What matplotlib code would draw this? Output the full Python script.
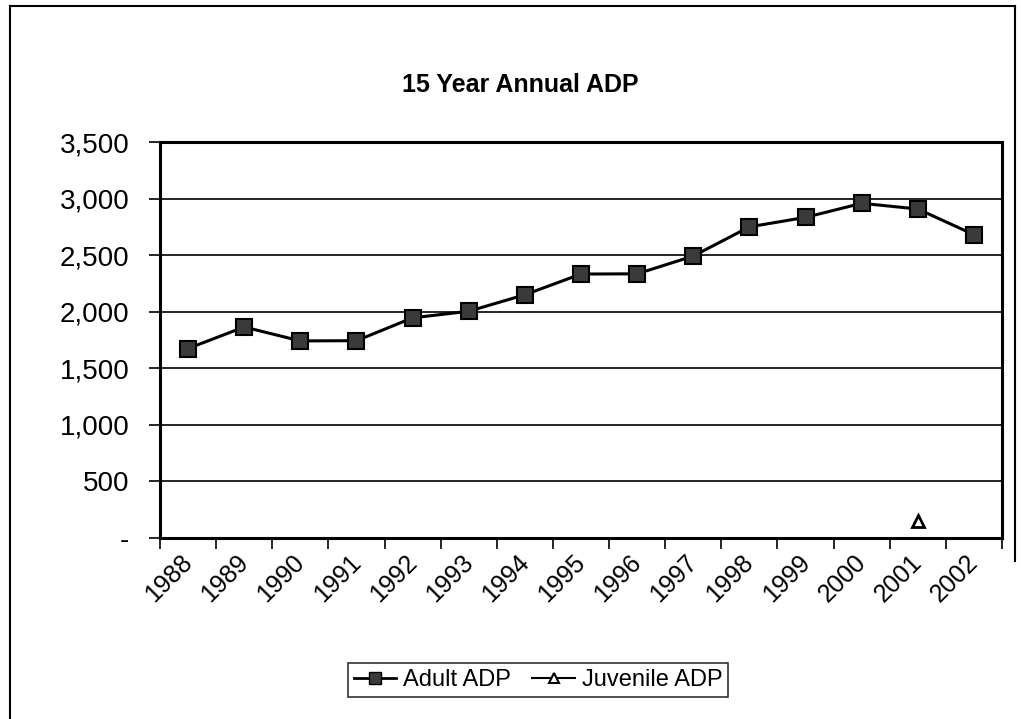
import matplotlib.pyplot as plt
import matplotlib.transforms as mtransforms
from matplotlib.lines import Line2D
from matplotlib.ticker import FuncFormatter

plt.rcParams['font.family'] = ['Liberation Sans', 'DejaVu Sans']

years = ['1988', '1989', '1990', '1991', '1992', '1993', '1994', '1995',
         '1996', '1997', '1998', '1999', '2000', '2001', '2002']
adult = [1675, 1865, 1742, 1744, 1946, 2004, 2150, 2333, 2335, 2492,
         2750, 2834, 2958, 2908, 2681]
juvenile_year = ['2001']
juvenile = [150]

fig = plt.figure(figsize=(10.21, 7.19), dpi=100)
ax = fig.add_axes([0.1567, 0.2517, 0.8247, 0.5508])

x = list(range(len(years)))
ax.plot(x, adult, color='black', linewidth=2.2, marker='s', markersize=11,
        markerfacecolor='#3a3a3a', markeredgecolor='black', markeredgewidth=1.5,
        label='Adult ADP', zorder=3)
jx = [years.index(y) for y in juvenile_year]
ax.plot(jx, juvenile, color='black', linewidth=1.5, marker='^', markersize=9,
        markerfacecolor='white', markeredgecolor='black', markeredgewidth=2,
        label='Juvenile ADP', linestyle='-', zorder=3)

ax.set_xlim(-0.5, len(years) - 0.5)
ax.set_ylim(0, 3500)
ax.set_yticks(range(0, 3501, 500))
ax.yaxis.set_major_formatter(FuncFormatter(lambda v, p: '-' if v == 0 else f'{int(v):,}'))
ax.grid(axis='y', color='black', linewidth=1.2)
ax.set_axisbelow(True)

# excel style: ticks between categories, labels at centres
ax.set_xticks([i - 0.5 for i in range(len(years) + 1)])
ax.set_xticklabels([])
ax.set_xticks(x, minor=True)
ax.set_xticklabels(years, minor=True, rotation=45, ha='right',
                   rotation_mode='anchor', fontsize=18)
ax.tick_params(axis='x', which='minor', length=0, pad=10)
ax.tick_params(axis='x', which='major', direction='out', length=8, width=1.2)
ax.tick_params(axis='y', direction='out', length=8, width=1.2, labelsize=20, pad=14)
shift = mtransforms.ScaledTranslation(-8 / 100, 2 / 100, fig.dpi_scale_trans)
for lbl in ax.get_xticklabels(minor=True):
    lbl.set_transform(lbl.get_transform() + shift)

for s in ax.spines.values():
    s.set_linewidth(2.2)
    s.set_color('black')

fig.text(0.51, 0.882, '15 Year Annual ADP', ha='center', va='center',
         fontsize=18, fontweight='bold')

handles = [
    Line2D([], [], color='black', linewidth=2, marker='s', markersize=9,
           markerfacecolor='#3a3a3a', markeredgecolor='black'),
    Line2D([], [], color='black', linewidth=1.5, marker='^', markersize=7,
           markerfacecolor='white', markeredgecolor='black', markeredgewidth=1.5),
]
leg = fig.legend(handles, ['Adult ADP', 'Juvenile ADP'], loc='center',
                 bbox_to_anchor=(0.527, 0.054), ncol=2, fontsize=17,
                 frameon=True, fancybox=False, edgecolor='black',
                 handlelength=1.8, handletextpad=0.3, columnspacing=0.9,
                 borderpad=0.25)
leg.get_frame().set_linewidth(1.2)

# outer chart border
fig.add_artist(Line2D([0.0098, 0.0098], [0.0, 0.992], color='black', linewidth=1.5))
fig.add_artist(Line2D([0.0098, 0.994], [0.992, 0.992], color='black', linewidth=1.5))
fig.add_artist(Line2D([0.994, 0.994], [0.992, 0.22], color='black', linewidth=1.5))

fig.savefig('out.png', dpi=100)
